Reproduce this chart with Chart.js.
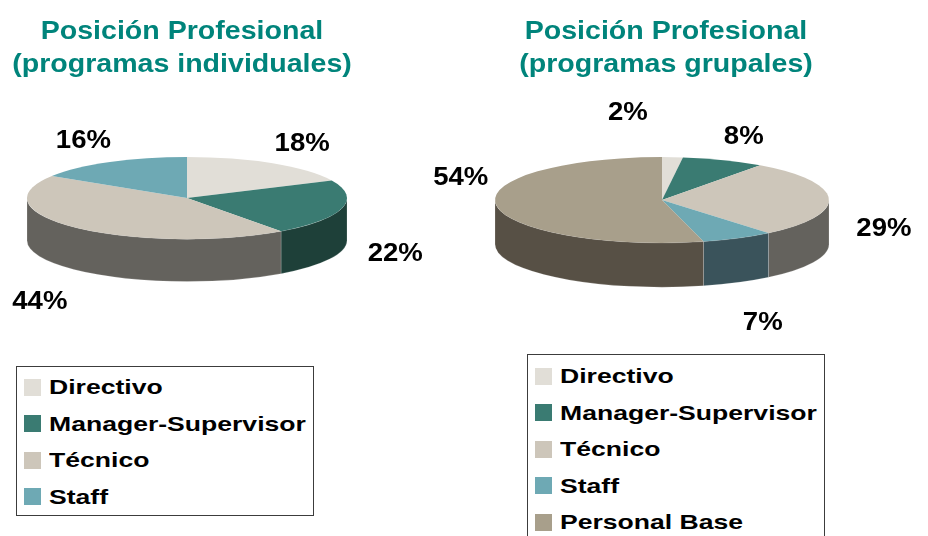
<!DOCTYPE html>
<html lang="es">
<head>
<meta charset="utf-8">
<title>Posición Profesional</title>
<script src="https://cdn.jsdelivr.net/npm/chart.js@4.4.1/dist/chart.umd.min.js"></script>
<style>
  body { margin: 0; background: #fff; font-family: 'Liberation Sans', Arial, sans-serif; }
  #page { position: relative; width: 928px; height: 536px; overflow: hidden; }
  #page canvas { position: absolute; left: 0; top: 0; }
  .title {
    position: absolute; top: 14px; width: 360px; text-align: center;
    color: #00847b; font-weight: bold; font-size: 25.5px; line-height: 33px;
    transform: scaleX(1.12); white-space: nowrap;
  }
  .legend {
    position: absolute; width: 298px; box-sizing: border-box;
    border: 1.5px solid #3c3c3c; background: #fff;
  }
  .legend .row { display: flex; align-items: center; height: 36.5px; }
  .legend .sw { width: 17px; height: 17px; margin-left: 6.5px; margin-right: 8px; flex: none; }
  .legend .tx {
    font-weight: bold; font-size: 21px; color: #000; white-space: nowrap;
    transform: scaleX(1.265); transform-origin: left center;
  }
</style>
</head>
<body>
<div id="page">
  <canvas id="chart1" width="928" height="536"></canvas>
  <canvas id="chart2" width="928" height="536"></canvas>
  <div class="title" id="title1" style="left:2px"></div>
  <div class="title" id="title2" style="left:486px"></div>
  <div class="legend" id="legend1" style="left:16px; top:366px; padding-top:2px"></div>
  <div class="legend" id="legend2" style="left:527px; top:354px; padding-top:3px"></div>
</div>
<script>
// data
const titles1 = ['Posición Profesional', '(programas individuales)'];
const categories1 = ['Directivo', 'Manager-Supervisor', 'Técnico', 'Staff'];
const values1 = [18, 22, 44, 16];

const titles2 = ['Posición Profesional', '(programas grupales)'];
const categories2 = ['Directivo', 'Manager-Supervisor', 'Técnico', 'Staff', 'Personal Base'];
const values2 = [2, 8, 29, 7, 54];

// colours: top face and side wall of each category
const topColors = {
  'Directivo': '#e1ded7',
  'Manager-Supervisor': '#3a7b72',
  'Técnico': '#cdc6ba',
  'Staff': '#6ea9b4',
  'Personal Base': '#a89f8b'
};
const sideColors = {
  'Directivo': '#77756f',
  'Manager-Supervisor': '#1e4039',
  'Técnico': '#64625d',
  'Staff': '#3a535b',
  'Personal Base': '#575045'
};

// fake 3d: squash the pie into an ellipse and add a wall under the front half
const pie3d = {
  id: 'pie3d',
  beforeDatasetsDraw(chart, args, opts) {
    const ctx = chart.ctx;
    const arcs = chart.getDatasetMeta(0).data;
    const sides = chart.data.datasets[0].sideColor;
    ctx.save();
    arcs.forEach((arc, i) => {
      const { x, y, startAngle, endAngle, outerRadius: r } = arc;
      const ry = r * opts.tilt, d = r * opts.depth;
      const s = Math.max(startAngle, 0), e = Math.min(endAngle, Math.PI);
      if (s >= e) return;
      ctx.beginPath();
      ctx.ellipse(x, y, r, ry, 0, s, e);
      ctx.ellipse(x, y + d, r, ry, 0, e, s, true);
      ctx.closePath();
      ctx.fillStyle = sides[i];
      ctx.fill();
      ctx.strokeStyle = 'rgba(255,255,255,0.3)';
      ctx.lineWidth = 0.6;
      ctx.stroke();
    });
    arcs.forEach((arc) => {
      const { x, y, startAngle, endAngle, outerRadius: r } = arc;
      ctx.beginPath();
      ctx.moveTo(x, y);
      ctx.ellipse(x, y, r, r * opts.tilt, 0, startAngle, endAngle);
      ctx.closePath();
      ctx.fillStyle = arc.options.backgroundColor;
      ctx.fill();
    });
    ctx.restore();
    return false;
  },
  afterDraw(chart, args, opts) {
    const ctx = chart.ctx;
    const arcs = chart.getDatasetMeta(0).data;
    const values = chart.data.datasets[0].data;
    const labels = chart.data.labels;
    const nudge = opts.nudge || {};
    ctx.save();
    ctx.font = 'bold 26px "Liberation Sans", Arial, sans-serif';
    ctx.fillStyle = '#000';
    ctx.textAlign = 'center';
    ctx.textBaseline = 'middle';
    arcs.forEach((arc, i) => {
      const { x, y, startAngle, endAngle, outerRadius: r } = arc;
      const mid = (startAngle + endAngle) / 2;
      const [nx, ny] = nudge[labels[i]] || [0, 0];
      const lx = x + Math.cos(mid) * (r + opts.gapX) + nx;
      const ly = y + r * opts.depth * 0.72 + Math.sin(mid) * (r * opts.tilt + opts.gapY) + ny;
      ctx.save();
      ctx.translate(lx, ly);
      ctx.scale(1.06, 1);
      ctx.fillText(values[i] + '%', 0, 0);
      ctx.restore();
    });
    ctx.restore();
  }
};

function makePie(canvasId, categories, values, padding, nudge) {
  return new Chart(document.getElementById(canvasId), {
    type: 'pie',
    data: {
      labels: categories,
      datasets: [{
        data: values,
        backgroundColor: categories.map(c => topColors[c]),
        sideColor: categories.map(c => sideColors[c]),
        borderWidth: 0
      }]
    },
    options: {
      responsive: false,
      animation: false,
      layout: { padding },
      plugins: {
        legend: { display: false },
        tooltip: { enabled: false },
        pie3d: { tilt: 0.257, depth: 0.265, gapX: 55, gapY: 59, nudge }
      }
    },
    plugins: [pie3d]
  });
}

function fillTitle(id, lines) {
  const el = document.getElementById(id);
  lines.forEach((t, i) => {
    if (i) el.appendChild(document.createElement('br'));
    el.appendChild(document.createTextNode(t));
  });
}

function fillLegend(chart, id) {
  const el = document.getElementById(id);
  const items = Chart.overrides.pie.plugins.legend.labels.generateLabels(chart);
  items.forEach(item => {
    const row = document.createElement('div');
    row.className = 'row';
    const sw = document.createElement('span');
    sw.className = 'sw';
    sw.style.background = item.fillStyle;
    const tx = document.createElement('span');
    tx.className = 'tx';
    tx.textContent = item.text;
    row.appendChild(sw);
    row.appendChild(tx);
    el.appendChild(row);
  });
}

// both canvases cover the whole page so labels can spill over the middle
const chart1 = makePie('chart1', categories1, values1, { left: 27, right: 581, top: 38, bottom: 178 });
// the two crowded labels of the second pie are moved clear, as in the original
const chart2 = makePie('chart2', categories2, values2, { left: 495, right: 99, top: 33, bottom: 169 },
  { 'Personal Base': [19, -67], 'Directivo': [-48, -17] });

fillTitle('title1', titles1);
fillTitle('title2', titles2);
fillLegend(chart1, 'legend1');
fillLegend(chart2, 'legend2');
</script>
</body>
</html>
